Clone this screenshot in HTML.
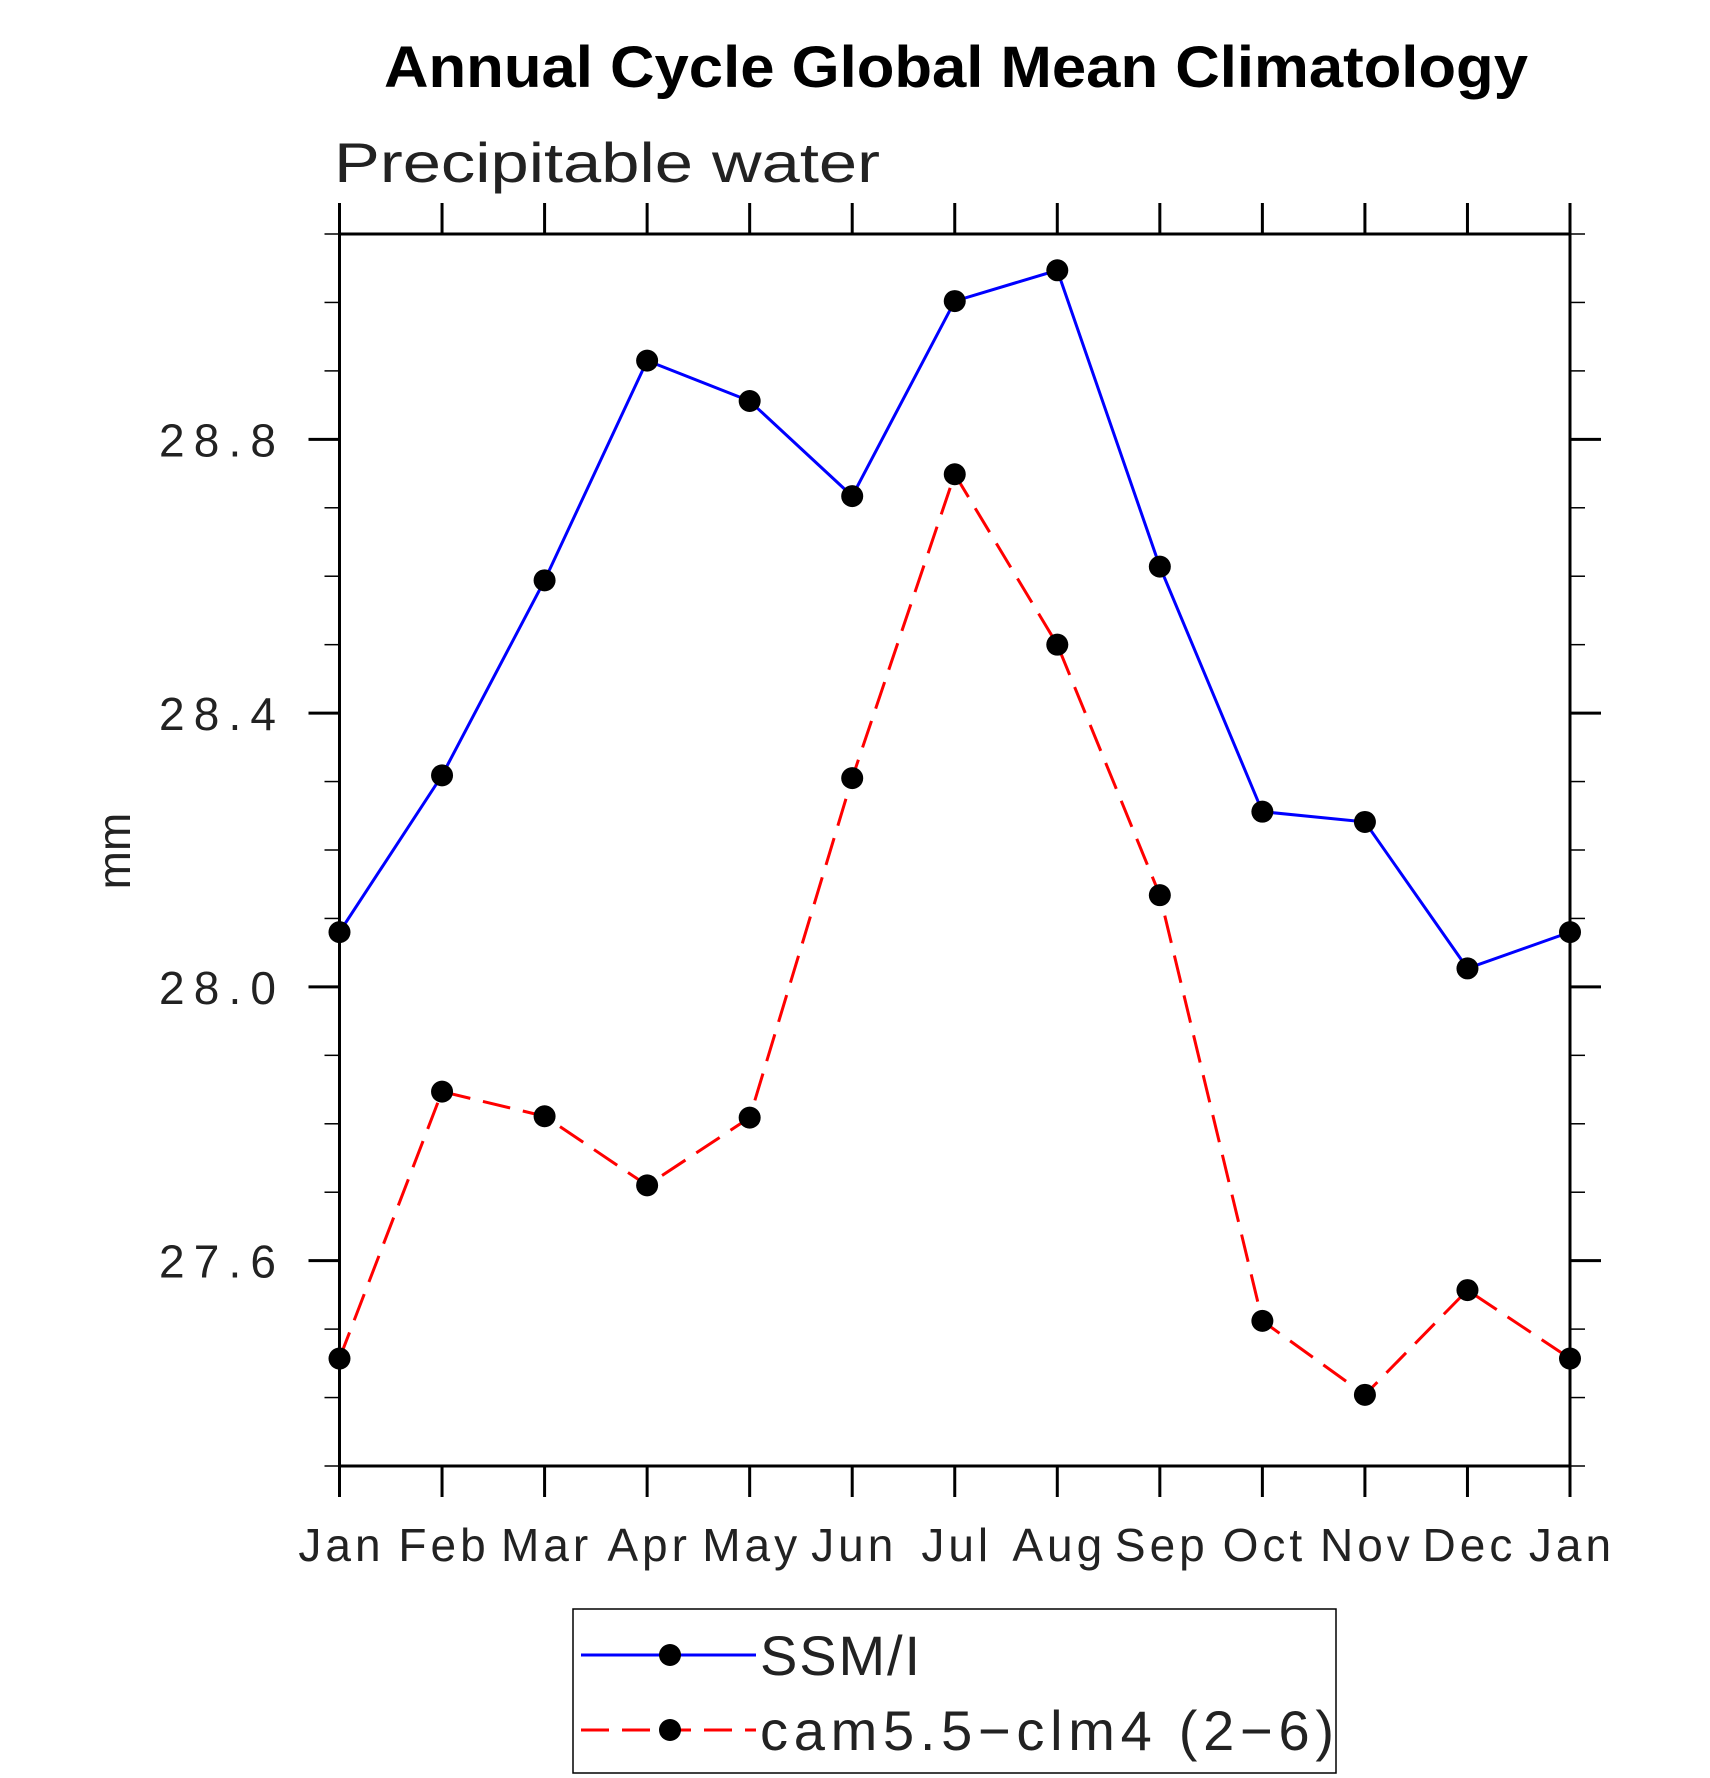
<!DOCTYPE html>
<html><head><meta charset="utf-8"><style>
html,body{margin:0;padding:0;background:#fff;}
svg{display:block;font-family:"Liberation Sans",sans-serif;}
.lbl{font-size:46px;fill:#222;font-weight:normal;}
.xl{letter-spacing:4px;}
</style></head><body>
<svg id="chart" width="1710" height="1778" viewBox="0 0 1710 1778" xmlns="http://www.w3.org/2000/svg">
<text x="384" y="87" font-size="58" font-weight="bold" textLength="1144" lengthAdjust="spacingAndGlyphs">Annual Cycle Global Mean Climatology</text>
<text x="334" y="182" font-size="56" fill="#222" textLength="546" lengthAdjust="spacingAndGlyphs">Precipitable water</text>
<text transform="translate(130,851) rotate(-90)" text-anchor="middle" class="lbl" font-size="40">mm</text>
<g id="axes"></g>
<g id="series"></g>
<rect x="573" y="1609" width="763" height="164" fill="none" stroke="#000" stroke-width="1.5"/>
<g id="legend"></g>
</svg>
<script>
const months = ["Jan","Feb","Mar","Apr","May","Jun","Jul","Aug","Sep","Oct","Nov","Dec","Jan"];
const ssmi = [28.08,28.309,28.594,28.915,28.856,28.717,29.002,29.047,28.614,28.256,28.241,28.027,28.08];
const cam = [27.457,27.847,27.811,27.71,27.809,28.305,28.749,28.5,28.134,27.512,27.404,27.557,27.457];
const yTicks = [27.6,28.0,28.4,28.8];
const yTickLabels = ["27.6","28.0","28.4","28.8"];
const yMin = 27.3, yMax = 29.1;
const seriesNames = ["SSM/I","cam5.5\u2212clm4 (2\u22126)"];

const L=339.5,R=1570,T=234,B=1466;
const NS="http://www.w3.org/2000/svg";
const xs=i=>L+(R-L)*i/(months.length-1);
const ys=v=>B-(v-yMin)/(yMax-yMin)*(B-T);
function mk(tag,attrs,parent){const e=document.createElementNS(NS,tag);for(const k in attrs)e.setAttribute(k,attrs[k]);parent.appendChild(e);return e;}
const axes=document.getElementById('axes');
const frame=mk('rect',{x:L,y:T,width:R-L,height:B-T,fill:'none',stroke:'#000','stroke-width':3},axes);


months.forEach((m,i)=>{
  const x=xs(i);
  const t1=mk('line',{x1:x,x2:x,y1:T-31,y2:T,stroke:'#000','stroke-width':3},axes);
  
  
  const t2=mk('line',{x1:x,x2:x,y1:B,y2:B+31,stroke:'#000','stroke-width':3},axes);
  
  
  const tx=mk('text',{x:x+2,y:1561,'text-anchor':'middle',class:'lbl xl'},axes);
  tx.textContent=m;
  
  
});
for(let k=0;k<=Math.round((yMax-yMin)*10);k++){
  const v=yMin+k*0.1;const y=ys(v);
  const major=yTicks.some(t=>Math.abs(t-v)<1e-6);
  const len=major?31:15;
  const a=mk('line',{x1:L-len,x2:L,y1:y,y2:y,stroke:'#000','stroke-width':major?3:1.5},axes);
  
  
  const b=mk('line',{x1:R,x2:R+len,y1:y,y2:y,stroke:'#000','stroke-width':major?3:1.5},axes);
  
  
}
yTicks.forEach((v,i)=>{
  const t=mk('text',{x:159,y:ys(v)+17,class:'lbl',textLength:117,lengthAdjust:'spacing'},axes);
  t.textContent=yTickLabels[i];
  
  
});
const sg=document.getElementById('series');
function drawSeries(vals,color,dash,name){
  const pl=mk('polyline',{points:vals.map((v,i)=>xs(i)+','+ys(v)).join(' '),fill:'none',stroke:color,'stroke-width':3,'stroke-dasharray':dash},sg);
  
  
  vals.forEach((v,i)=>{
    const c=mk('circle',{cx:xs(i),cy:ys(v),r:11,fill:'#000'},sg);
    
    
  });
}
drawSeries(ssmi,'#0000ff','none','ssmi');
drawSeries(cam,'#ff0000','28 13','cam');
const lg=document.getElementById('legend');
const legW=[160,574];
[[1655,'#0000ff','none'],[1730,'#ff0000','28 13']].forEach((e,i)=>{
  const l=mk('line',{x1:581,x2:756,y1:e[0],y2:e[0],stroke:e[1],'stroke-width':3,'stroke-dasharray':e[2]},lg);
  
  
  const c=mk('circle',{cx:670,cy:e[0],r:11,fill:'#000'},lg);
  
  
  const t=mk('text',{x:760,y:e[0]+20,'font-size':56,fill:'#222',textLength:legW[i],lengthAdjust:'spacing'},lg);
  t.textContent=seriesNames[i];
  
  
});
</script>
</body></html>
